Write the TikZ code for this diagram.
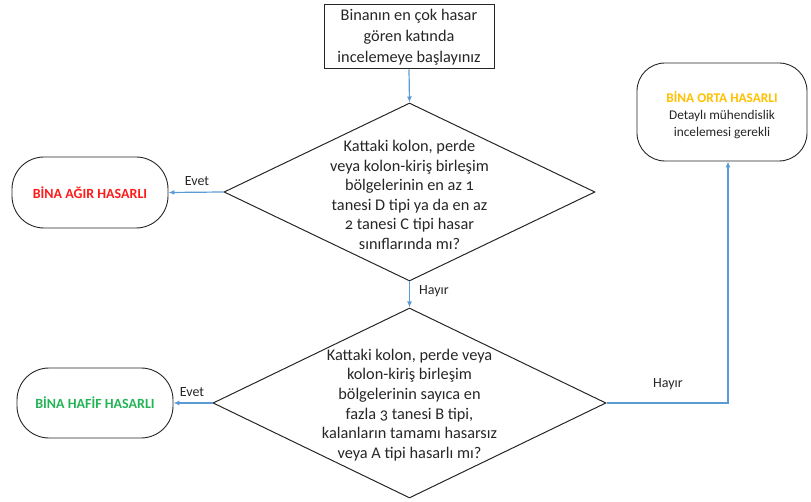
\documentclass[tikz,border=0pt]{standalone}
\usepackage{fontspec}
\setmainfont{Carlito}[Numbers=OldStyle]
\usetikzlibrary{shapes.geometric,arrows.meta}
\definecolor{flowblue}{HTML}{5B9BD5}
\definecolor{boxline}{HTML}{262626}
\definecolor{txt}{HTML}{262626}
\definecolor{heavyred}{HTML}{FF1A1A}
\definecolor{lightgreen}{HTML}{22B455}
\definecolor{midorange}{HTML}{FFC000}
\begin{document}
\begin{tikzpicture}[x=1pt,y=-1pt,
  every node/.style={text=txt},
  startbox/.style={draw=boxline,line width=1pt,minimum width=170pt,minimum height=64pt,inner sep=0pt},
  decision/.style={draw=boxline,line width=1pt,diamond,inner sep=0pt},
  body/.style={align=center,font=\fontsize{16.3}{19.6}\selectfont},
  outcome/.style={draw=boxline,line width=0.9pt,rounded corners=32pt,inner sep=0pt,align=center},
  flow/.style={draw=flowblue,line width=1.2pt,-{Latex[length=6pt,width=5pt]}},
  edgelabel/.style={font=\fontsize{14}{16}\selectfont}
]
\useasboundingbox (0,0) rectangle (811,502);

% start box
\node[startbox,body,font=\fontsize{16.3}{20.8}\selectfont] (start) at (409,37)
  {Binanın en çok hasar\\ gören katında\\ incelemeye başlayınız};

% first decision
\node[decision,minimum width=371pt,minimum height=178pt] (d1) at (409.5,192) {};
\node[body] (d1t) at (409.5,195) {Kattaki kolon, perde\\ veya kolon-kiriş birleşim\\ bölgelerinin en az 1\\ tanesi D tipi ya da en az\\ 2 tanesi C tipi hasar\\ sınıflarında mı?};

% second decision
\node[decision,minimum width=393pt,minimum height=190pt] (d2) at (409.5,403) {};
\node[body] (d2t) at (409.5,405) {Kattaki kolon, perde veya\\ kolon-kiriş birleşim\\ bölgelerinin sayıca en\\ fazla 3 tanesi B tipi,\\ kalanların tamamı hasarsız\\ veya A tipi hasarlı mı?};

% outcomes
\node[outcome,minimum width=156pt,minimum height=71pt,font=\fontsize{14}{16}\selectfont\bfseries,text=heavyred] (heavy) at (90,192.5) {BİNA AĞIR HASARLI};
\node[outcome,minimum width=156pt,minimum height=70pt,font=\fontsize{14}{16}\selectfont\bfseries,text=lightgreen] (light) at (95,403) {BİNA HAFİF HASARLI};
\node[outcome,rounded corners=28pt,minimum width=170pt,minimum height=98pt] (mid) at (722,112) {};
\node[align=center,font=\fontsize{13.3}{17}\selectfont] (midt) at ([yshift=-3.5pt]mid.center)
  {\textcolor{midorange}{\bfseries BİNA ORTA HASARLI}\\ Detaylı mühendislik\\ incelemesi gerekli};

% connectors
\draw[flow] (start.south) -- (d1.north);
\draw[flow] (d1.west) -- (heavy.east);
\draw[flow] (d1.south) -- (d2.north);
\draw[flow] (d2.west) -- (light.east);
\coordinate (midin) at ([xshift=6pt]mid.south);
\draw[flow] (d2.east) -| (midin);

% branch labels
\node[edgelabel] (e1) at (197,181) {Evet};
\node[edgelabel] (e2) at (192,392) {Evet};
\node[edgelabel] (h1) at (434,291) {Hayır};
\node[edgelabel] (h2) at (668,384) {Hayır};
\end{tikzpicture}
\end{document}
